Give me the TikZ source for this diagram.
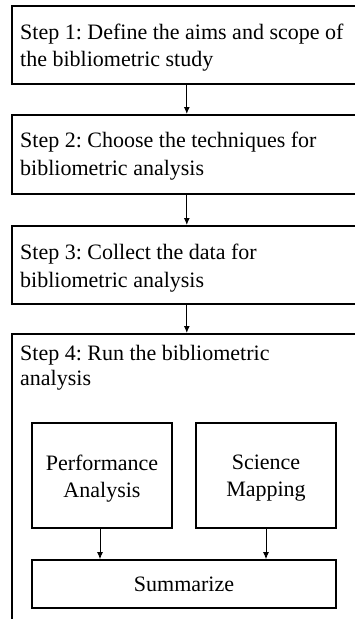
\documentclass[tikz,border=0pt]{standalone}
\usepackage{fontspec}
\setmainfont{Liberation Serif}
\usetikzlibrary{arrows.meta}
\begin{document}
\begin{tikzpicture}[x=1pt,y=1pt,
  stepbox/.style={draw, line width=1.6pt, minimum width=350pt, inner sep=0pt,
    anchor=north west},
  steptext/.style={anchor=north west, inner sep=0pt, align=left,
    font=\fontsize{22}{27.5}\selectfont\frenchspacing},
  subbox/.style={draw, line width=1.6pt, inner sep=0pt},
  subtext/.style={align=center, inner sep=0pt,
    font=\fontsize{22}{27}\selectfont},
  flow/.style={line width=1pt, -{Latex[length=7pt,width=6pt]}}]
\useasboundingbox (0,0) rectangle (355,-619);
\clip (0,0) rectangle (355,-619);
% frames of the four steps (they run past the right edge)
\node[stepbox, minimum height=78pt] (s1) at (11,-5) {};
\node[stepbox, minimum height=79pt] (s2) at (11,-114) {};
\node[stepbox, minimum height=78pt] (s3) at (11,-225) {};
\node[stepbox, minimum height=300pt] (s4) at (11,-333) {};
% step captions
\node[steptext] (t1) at (20,-23.5)
  {Step 1: Define the aims and scope of\\the bibliometric study};
\node[steptext] (t2) at (20,-132.3)
  {Step 2: Choose the techniques for\\bibliometric analysis};
\node[steptext] (t3) at (20,-244.3)
  {Step 3: Collect the data for\\bibliometric analysis};
\node[steptext, font=\fontsize{22}{25}\selectfont\frenchspacing] (t4) at (20,-345)
  {Step 4: Run the bibliometric\\analysis};
% analysis stage
\node[subbox, minimum width=140pt, minimum height=105pt] (pa) at (102,-475.5) {};
\node[subbox, minimum width=140pt, minimum height=105pt] (sm) at (266,-475.5) {};
\node[subtext] (pat) at (102,-478.5) {Performance\\Analysis};
\node[subtext] (smt) at (266,-478.5) {Science\\Mapping};
\node[subbox, subtext, minimum width=304pt, minimum height=48pt] (su) at (184,-584)
  {Summarize};
% connectors
\draw[flow] (s1.south) -- (s2.north);
\draw[flow] (s2.south) -- (s3.north);
\draw[flow] (s3.south) -- (s4.north);
\draw[flow] ([xshift=-2pt]pa.south) -- ([xshift=-2pt]pa.south |- su.north);
\draw[flow] (sm.south) -- (sm.south |- su.north);
\end{tikzpicture}
\end{document}
